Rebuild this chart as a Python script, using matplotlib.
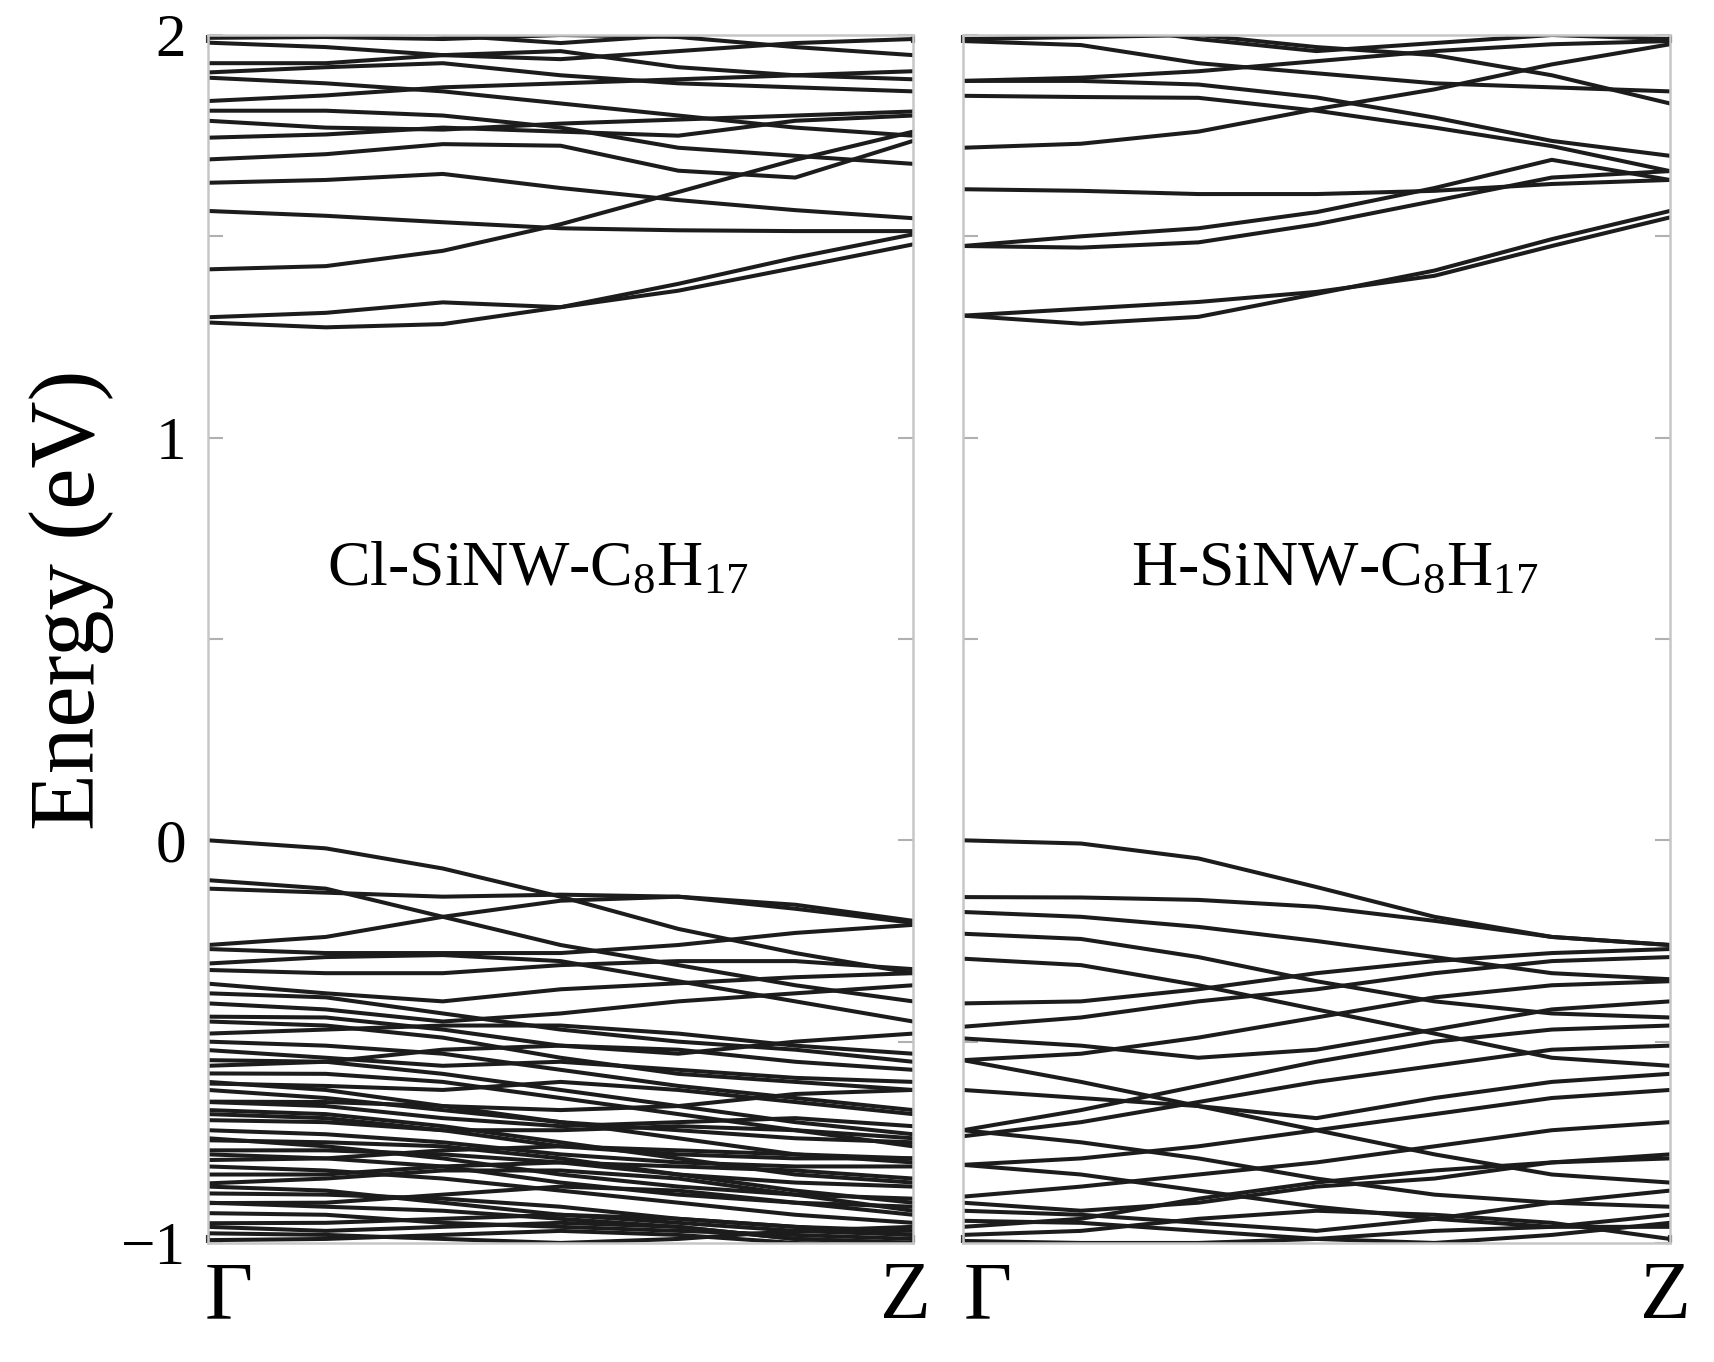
import matplotlib
matplotlib.use("Agg")
import matplotlib.pyplot as plt
from matplotlib.ticker import MultipleLocator

# k-path sample points (Gamma -> Z), band energies in eV
k_path = [0.0, 0.167, 0.333, 0.5, 0.667, 0.833, 1.0]

cl_conduction = [
    [1.299, 1.310, 1.336, 1.324, 1.365, 1.422, 1.480],
    [1.286, 1.274, 1.282, 1.324, 1.382, 1.447, 1.505],
    [1.418, 1.426, 1.464, 1.530, 1.610, 1.690, 1.760],
    [1.563, 1.551, 1.535, 1.520, 1.515, 1.513, 1.513],
    [1.633, 1.640, 1.655, 1.620, 1.590, 1.565, 1.545],
    [1.691, 1.704, 1.729, 1.725, 1.663, 1.646, 1.737],
    [1.745, 1.753, 1.770, 1.760, 1.750, 1.787, 1.800],
    [1.787, 1.770, 1.765, 1.780, 1.790, 1.800, 1.810],
    [1.812, 1.812, 1.800, 1.770, 1.720, 1.700, 1.680],
    [1.836, 1.850, 1.870, 1.880, 1.890, 1.900, 1.910],
    [1.894, 1.880, 1.860, 1.830, 1.800, 1.770, 1.750],
    [1.907, 1.920, 1.930, 1.900, 1.880, 1.870, 1.860],
    [1.930, 1.930, 1.950, 1.960, 1.920, 1.900, 1.890],
    [1.981, 1.970, 1.950, 1.940, 1.960, 1.980, 1.990],
    [1.993, 1.995, 1.990, 2.000, 1.995, 1.970, 1.950],
    [2.050, 2.030, 2.000, 1.980, 2.000, 2.010, 2.030],
]

cl_valence = [
    [0.000, -0.020, -0.070, -0.140, -0.220, -0.280, -0.330],
    [-0.099, -0.120, -0.190, -0.260, -0.310, -0.360, -0.400],
    [-0.120, -0.130, -0.140, -0.135, -0.140, -0.170, -0.205],
    [-0.260, -0.240, -0.190, -0.150, -0.140, -0.160, -0.200],
    [-0.270, -0.280, -0.280, -0.280, -0.260, -0.230, -0.210],
    [-0.306, -0.290, -0.285, -0.300, -0.350, -0.400, -0.450],
    [-0.322, -0.330, -0.330, -0.310, -0.300, -0.300, -0.320],
    [-0.356, -0.380, -0.400, -0.370, -0.355, -0.340, -0.330],
    [-0.380, -0.390, -0.430, -0.470, -0.500, -0.520, -0.550],
    [-0.405, -0.420, -0.450, -0.430, -0.400, -0.380, -0.360],
    [-0.438, -0.440, -0.470, -0.510, -0.530, -0.500, -0.480],
    [-0.450, -0.460, -0.490, -0.540, -0.580, -0.600, -0.620],
    [-0.480, -0.470, -0.460, -0.460, -0.480, -0.510, -0.530],
    [-0.500, -0.510, -0.530, -0.570, -0.610, -0.640, -0.670],
    [-0.521, -0.540, -0.560, -0.550, -0.570, -0.590, -0.600],
    [-0.546, -0.550, -0.580, -0.620, -0.660, -0.700, -0.730],
    [-0.560, -0.550, -0.520, -0.510, -0.520, -0.550, -0.570],
    [-0.579, -0.580, -0.600, -0.640, -0.680, -0.720, -0.740],
    [-0.600, -0.620, -0.660, -0.700, -0.720, -0.740, -0.750],
    [-0.604, -0.610, -0.620, -0.600, -0.620, -0.650, -0.680],
    [-0.620, -0.640, -0.670, -0.700, -0.740, -0.780, -0.800],
    [-0.649, -0.650, -0.660, -0.670, -0.660, -0.630, -0.620],
    [-0.650, -0.660, -0.690, -0.710, -0.700, -0.690, -0.710],
    [-0.670, -0.680, -0.710, -0.750, -0.790, -0.830, -0.850],
    [-0.680, -0.690, -0.720, -0.760, -0.780, -0.790, -0.790],
    [-0.695, -0.700, -0.720, -0.720, -0.710, -0.720, -0.760],
    [-0.720, -0.730, -0.750, -0.780, -0.800, -0.810, -0.810],
    [-0.740, -0.760, -0.790, -0.830, -0.860, -0.880, -0.890],
    [-0.745, -0.750, -0.760, -0.790, -0.830, -0.870, -0.900],
    [-0.770, -0.770, -0.780, -0.800, -0.830, -0.850, -0.860],
    [-0.780, -0.790, -0.810, -0.850, -0.880, -0.900, -0.910],
    [-0.794, -0.790, -0.770, -0.760, -0.770, -0.780, -0.790],
    [-0.810, -0.820, -0.840, -0.870, -0.900, -0.930, -0.950],
    [-0.830, -0.830, -0.810, -0.800, -0.810, -0.820, -0.840],
    [-0.852, -0.840, -0.820, -0.820, -0.840, -0.880, -0.920],
    [-0.860, -0.870, -0.900, -0.930, -0.950, -0.970, -0.980],
    [-0.877, -0.880, -0.890, -0.910, -0.940, -0.960, -0.970],
    [-0.900, -0.910, -0.920, -0.940, -0.960, -0.990, -1.000],
    [-0.901, -0.900, -0.880, -0.860, -0.870, -0.900, -0.930],
    [-0.926, -0.930, -0.950, -0.960, -0.970, -0.980, -0.990],
    [-0.951, -0.950, -0.940, -0.930, -0.940, -0.960, -0.980],
    [-0.960, -0.970, -0.960, -0.950, -0.960, -0.990, -1.000],
    [-0.976, -0.980, -0.990, -1.000, -0.990, -0.970, -0.960],
    [-0.993, -0.990, -0.980, -0.970, -0.980, -1.000, -1.010],
]

h_conduction = [
    [1.303, 1.283, 1.300, 1.357, 1.415, 1.493, 1.563],
    [1.303, 1.320, 1.337, 1.362, 1.402, 1.476, 1.547],
    [1.476, 1.472, 1.485, 1.530, 1.588, 1.646, 1.662],
    [1.476, 1.500, 1.520, 1.560, 1.620, 1.690, 1.640],
    [1.617, 1.613, 1.605, 1.605, 1.613, 1.630, 1.640],
    [1.720, 1.730, 1.760, 1.816, 1.865, 1.927, 1.977],
    [1.849, 1.846, 1.844, 1.812, 1.770, 1.724, 1.662],
    [1.886, 1.894, 1.910, 1.935, 1.960, 1.977, 1.985],
    [1.886, 1.886, 1.877, 1.845, 1.795, 1.737, 1.700],
    [1.985, 1.975, 1.930, 1.905, 1.880, 1.870, 1.860],
    [1.990, 1.995, 2.000, 1.970, 1.950, 1.900, 1.830],
    [2.050, 2.030, 1.990, 1.960, 1.980, 2.000, 1.990],
]

h_valence = [
    [0.000, -0.008, -0.045, -0.116, -0.190, -0.240, -0.260],
    [-0.141, -0.142, -0.148, -0.165, -0.200, -0.240, -0.260],
    [-0.178, -0.190, -0.215, -0.250, -0.290, -0.330, -0.345],
    [-0.232, -0.245, -0.290, -0.350, -0.400, -0.430, -0.440],
    [-0.294, -0.310, -0.360, -0.420, -0.480, -0.540, -0.560],
    [-0.405, -0.400, -0.370, -0.330, -0.300, -0.280, -0.270],
    [-0.463, -0.440, -0.400, -0.370, -0.330, -0.300, -0.290],
    [-0.492, -0.510, -0.540, -0.520, -0.470, -0.420, -0.400],
    [-0.546, -0.600, -0.660, -0.720, -0.780, -0.830, -0.850],
    [-0.546, -0.530, -0.490, -0.440, -0.390, -0.360, -0.350],
    [-0.620, -0.640, -0.660, -0.690, -0.640, -0.600, -0.580],
    [-0.720, -0.670, -0.610, -0.550, -0.500, -0.470, -0.460],
    [-0.720, -0.750, -0.790, -0.840, -0.880, -0.900, -0.910],
    [-0.735, -0.700, -0.650, -0.600, -0.560, -0.520, -0.510],
    [-0.806, -0.790, -0.760, -0.720, -0.680, -0.640, -0.620],
    [-0.806, -0.830, -0.870, -0.910, -0.940, -0.960, -0.960],
    [-0.885, -0.860, -0.830, -0.800, -0.760, -0.720, -0.700],
    [-0.900, -0.920, -0.900, -0.860, -0.840, -0.800, -0.780],
    [-0.920, -0.930, -0.950, -0.970, -0.940, -0.900, -0.870],
    [-0.945, -0.950, -0.970, -0.990, -1.000, -0.980, -0.950],
    [-0.960, -0.940, -0.890, -0.850, -0.820, -0.800, -0.790],
    [-0.980, -0.970, -0.940, -0.920, -0.930, -0.950, -0.990],
    [-0.995, -1.000, -1.000, -0.990, -0.970, -0.960, -0.930],
]

panel_labels = [r"Cl-SiNW-C$_{\mathrm{8}}$H$_{\mathrm{17}}$",
                r"H-SiNW-C$_{\mathrm{8}}$H$_{\mathrm{17}}$"]
kpoint_labels = ["Γ", "Z"]
y_ticks = [-1, 0, 1, 2]

plt.rcParams['font.family'] = ['Liberation Serif', 'DejaVu Serif']
plt.rcParams['mathtext.fontset'] = 'custom'
plt.rcParams['mathtext.rm'] = 'Liberation Serif'
plt.rcParams['mathtext.it'] = 'Liberation Serif:italic'

fig = plt.figure(figsize=(17.15, 13.62), dpi=100)
ax_l = fig.add_axes([0.1213, 0.0874, 0.4111, 0.8869])
ax_r = fig.add_axes([0.5615, 0.0874, 0.4122, 0.8869])


def draw_panel(ax, bands, label, label_x, gamma_x, z_x):
    for band in bands:
        ax.plot(k_path, band, color='#1c1c1c', lw=2.9,
                solid_joinstyle='round', solid_capstyle='round')
    ax.set_xlim(0, 1)
    ax.set_ylim(-1, 2)
    for s in ax.spines.values():
        s.set_color('#c6c6c6')
        s.set_linewidth(1.8)
    ax.set_xticks([0, 1])
    ax.set_xticklabels([])
    ax.tick_params(axis='x', direction='in', length=6, width=3,
                   color='#333333', top=True)
    ax.set_yticks(y_ticks)
    ax.yaxis.set_minor_locator(MultipleLocator(0.5))
    ax.tick_params(axis='y', which='both', direction='in', length=11,
                   width=1.5, color='#b0b0b0', right=True,
                   labelsize=44, pad=16)
    ax.text(label_x, 0.67, label, ha='center', va='center', fontsize=46)
    ax.text(gamma_x, -0.046, kpoint_labels[0], transform=ax.transAxes,
            ha='center', va='center', fontsize=60)
    ax.text(z_x, -0.046, kpoint_labels[1], transform=ax.transAxes,
            ha='center', va='center', fontsize=60)


draw_panel(ax_l, cl_conduction + cl_valence, panel_labels[0], 0.468, 0.03, 0.989)
draw_panel(ax_r, h_conduction + h_valence, panel_labels[1], 0.526, 0.035, 0.993)
ax_l.set_yticklabels(["−1", "0", "1", "2"])
ax_r.tick_params(axis='y', labelleft=False)

fig.text(0.0414, 0.56, "Energy (eV)", rotation=90, ha='center', va='center',
         fontsize=67)

fig.savefig("out.png", dpi=100)
